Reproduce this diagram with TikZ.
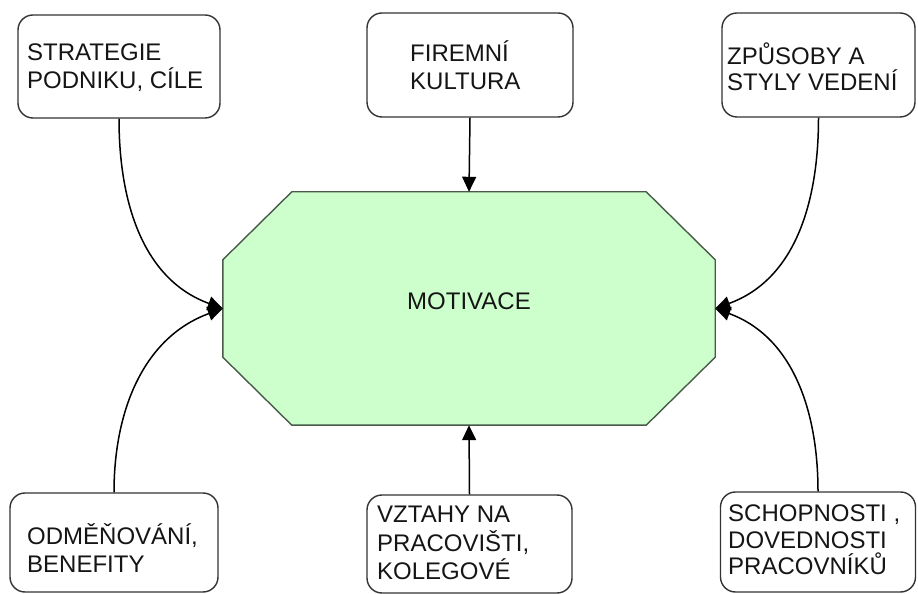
\documentclass[tikz,border=0pt]{standalone}
\usepackage{fontspec}
\setmainfont{Liberation Sans}
\usetikzlibrary{arrows.meta,calc}
\definecolor{motfill}{HTML}{CCFFCC}
\definecolor{motline}{HTML}{4A5A4A}
\definecolor{boxline}{HTML}{333333}
\definecolor{txt}{HTML}{151515}
\begin{document}
\begin{tikzpicture}[x=1pt,y=1pt,
  box/.style={draw=boxline,line width=1.4pt,rounded corners=15pt,inner sep=0pt,fill=white},
  lbl/.style={anchor=base west,inner sep=0pt,align=left,text=txt,
    font=\fontsize{24}{28}\selectfont},
  conn/.style={draw=black,line width=1.5pt,-{Triangle[length=15pt,width=14pt]}}]
\useasboundingbox (0,0) rectangle (918,594);
% boxes
\node[box,minimum width=202,minimum height=103] (sp) at (119,527.5) {};
\node[box,minimum width=206,minimum height=104] (fk) at (470,529) {};
\node[box,minimum width=193,minimum height=104] (zp) at (818.5,529) {};
\node[box,minimum width=208,minimum height=99] (od) at (114,51.5) {};
\node[box,minimum width=205,minimum height=98] (vz) at (469.5,50) {};
\node[box,minimum width=195,minimum height=100] (sc) at (818,52) {};
% labels (anchored at the baseline of the last line)
\node[lbl] (tsp) at (27,505) {STRATEGIE\\PODNIKU, CÍLE};
\node[lbl] (tfk) at (410,504) {FIREMNÍ\\KULTURA};
\node[lbl,font=\fontsize{24}{26}\selectfont] (tzp) at (727,503) {ZPŮSOBY A\\STYLY VEDENÍ};
\node[lbl] (tod) at (27,21) {ODMĚŇOVÁNÍ,\\BENEFITY};
\node[lbl,font=\fontsize{24}{28.5}\selectfont] (tvz) at (377,14) {VZTAHY NA\\PRACOVIŠTI,\\KOLEGOVÉ};
\node[lbl,font=\fontsize{24}{26.5}\selectfont] (tsc) at (728,19) {SCHOPNOSTI ,\\DOVEDNOSTI\\PRACOVNÍKŮ};
% central octagon
\node[minimum width=492,minimum height=233,inner sep=0pt] (mot) at (469,285.5) {};
\fill[motfill,draw=motline,line width=1.4pt]
  ($(mot.north west)+(69,0)$) -- ($(mot.north east)+(-69,0)$)
  -- ($(mot.north east)+(0,-68)$) -- ($(mot.south east)+(0,68)$)
  -- ($(mot.south east)+(-69,0)$) -- ($(mot.south west)+(69,0)$)
  -- ($(mot.south west)+(0,68)$) -- ($(mot.north west)+(0,-68)$) -- cycle;
\node[lbl,anchor=base,text=txt] (tmot) at (469,284) {MOTIVACE};
% connectors
\draw[conn] (fk.south) -- (mot.north);
\draw[conn] (vz.north) -- (mot.south);
\draw[conn] (sp.south) to[out=-90,in=160] (mot.west);
\draw[conn] (od.north) to[out=90,in=200] (mot.west);
\draw[conn] (zp.south) to[out=-90,in=20] (mot.east);
\draw[conn] (sc.north) to[out=90,in=-20] (mot.east);
\end{tikzpicture}
\end{document}
